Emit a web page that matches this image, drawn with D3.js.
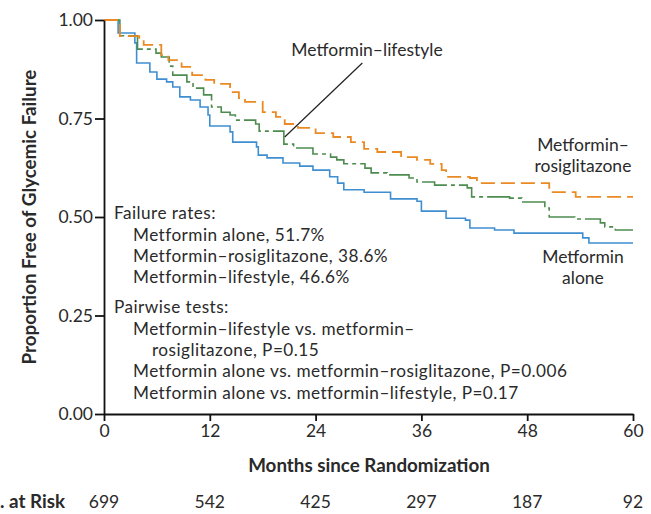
<!DOCTYPE html>
<html>
<head>
<meta charset="utf-8">
<script src="https://cdn.jsdelivr.net/npm/d3@7"></script>
<style>
html,body{margin:0;padding:0;background:#fff;}
svg{display:block;font-family:Lato,sans-serif;}
</style>
</head>
<body>
<svg id="chart" width="651" height="514"></svg>
<script>
// ---- data ----
const xTicks = [0, 12, 24, 36, 48, 60];
const yTicks = [0, 0.25, 0.5, 0.75, 1.0];
const riskCounts = [699, 542, 425, 297, 187, 92];

const aloneMonths = [0, 1.6, 3.5, 3.7, 5.2, 6.0, 7.1, 7.8, 8.6, 9.8, 10.9, 11.8, 12.0, 14.3, 14.6, 17.3, 17.5, 18.5, 20.3, 22.2, 23.7, 25.6, 26.5, 27.2, 29.5, 32.5, 35.5, 36.0, 38.8, 41.0, 41.5, 44.3, 46.5, 54.3, 55.0, 60];
const aloneSurv   = [1.0, 0.967, 0.942, 0.891, 0.868, 0.850, 0.843, 0.830, 0.805, 0.797, 0.779, 0.759, 0.731, 0.716, 0.690, 0.678, 0.657, 0.650, 0.637, 0.629, 0.619, 0.602, 0.586, 0.569, 0.563, 0.546, 0.540, 0.515, 0.497, 0.492, 0.472, 0.467, 0.459, 0.447, 0.434, 0.434];

const rosiMonths = [0, 1.8, 4.0, 4.5, 6.5, 7.3, 8.8, 10.0, 11.5, 12.5, 14.3, 15.3, 16.0, 18.0, 19.5, 20.5, 22.0, 24.0, 26.0, 28.0, 29.5, 31.0, 33.7, 35.5, 37.0, 38.3, 38.8, 41.5, 42.3, 50.5, 53.5, 60];
const rosiSurv   = [1.0, 0.959, 0.949, 0.937, 0.911, 0.898, 0.881, 0.860, 0.848, 0.838, 0.817, 0.802, 0.792, 0.766, 0.754, 0.736, 0.726, 0.713, 0.703, 0.690, 0.673, 0.665, 0.652, 0.645, 0.635, 0.619, 0.602, 0.599, 0.586, 0.563, 0.551, 0.551];

const lifeMonths = [0, 1.8, 3.8, 5.9, 6.5, 7.4, 7.8, 9.4, 10.1, 11.3, 12.2, 13.3, 14.3, 14.9, 17.2, 17.6, 20.4, 21.5, 23.7, 25.7, 26.4, 27.2, 29.6, 30.3, 32.1, 34.6, 35.5, 37.5, 41.2, 41.7, 46.0, 47.4, 50.0, 50.5, 53.4, 56.3, 56.8, 58.0, 60];
const lifeSurv   = [1.0, 0.96, 0.926, 0.916, 0.906, 0.883, 0.860, 0.843, 0.827, 0.810, 0.779, 0.766, 0.759, 0.746, 0.736, 0.718, 0.685, 0.675, 0.660, 0.652, 0.645, 0.635, 0.624, 0.612, 0.607, 0.599, 0.589, 0.581, 0.574, 0.551, 0.548, 0.538, 0.523, 0.500, 0.495, 0.485, 0.475, 0.467, 0.467];

const failureLines = ["Metformin alone, 51.7%", "Metformin\u2013rosiglitazone, 38.6%", "Metformin\u2013lifestyle, 46.6%"];
const pairwiseLines = ["Metformin\u2013lifestyle vs. metformin\u2013", "rosiglitazone, P=0.15", "Metformin alone vs. metformin\u2013rosiglitazone, P=0.006", "Metformin alone vs. metformin\u2013lifestyle, P=0.17"];

// ---- chart ----
const svg = d3.select("#chart");
const x = d3.scaleLinear().domain([0, 60]).range([104, 633]);
const y = d3.scaleLinear().domain([0, 1]).range([414, 20]);
const textColor = "#2a2a2a";
const fs = "17.2px";

const line = d3.line().x(d => x(d[0])).y(d => y(d[1])).curve(d3.curveStepAfter);

function series(m, s) { return m.map((v, i) => [v, s[i]]); }

svg.append("path").datum(series(aloneMonths, aloneSurv))
  .attr("d", line).attr("fill", "none").attr("stroke", "#3f8fd0").attr("stroke-width", 1.6);
svg.append("path").datum(series(lifeMonths, lifeSurv))
  .attr("d", line).attr("fill", "none").attr("stroke", "#4d8c4f").attr("stroke-width", 1.6)
  .attr("stroke-dasharray", "28,4,4,4");
svg.append("path").datum(series(rosiMonths, rosiSurv))
  .attr("d", line).attr("fill", "none").attr("stroke", "#ea8a24").attr("stroke-width", 1.8)
  .attr("stroke-dasharray", "14,6");

// axes
const yAxis = svg.append("g").attr("transform", `translate(${x(0)},0)`)
  .call(d3.axisLeft(y).tickValues(yTicks).tickFormat(d3.format(".2f")).tickSize(9).tickSizeOuter(0).tickPadding(2));
const xAxis = svg.append("g").attr("transform", `translate(0,${y(0)})`)
  .call(d3.axisBottom(x).tickValues(xTicks).tickSize(7).tickSizeOuter(0).tickPadding(4));
[yAxis, xAxis].forEach(g => {
  g.selectAll("path,line").attr("stroke", "#111").attr("stroke-width", 1.8);
  g.selectAll("text").attr("fill", textColor).style("font-size", "17.5px").style("font-family", "Lato,sans-serif");
});

// axis titles
svg.append("text").attr("x", 369).attr("y", 472).attr("text-anchor", "middle")
  .attr("fill", textColor).style("font-size", "18.8px").style("font-weight", "bold")
  .text("Months since Randomization");
svg.append("text").attr("transform", `translate(36,${y(0.5)}) rotate(-90)`).attr("text-anchor", "middle")
  .attr("fill", textColor).style("font-size", "18.8px").style("font-weight", "bold")
  .text("Proportion Free of Glycemic Failure");

// number at risk
svg.append("text").attr("x", 65).attr("y", 508).attr("text-anchor", "end")
  .attr("fill", textColor).style("font-size", "18.8px").style("font-weight", "bold").text("No. at Risk");
svg.selectAll(".risk").data(riskCounts).enter().append("text")
  .attr("x", (d, i) => x(xTicks[i])).attr("y", 508).attr("text-anchor", "middle")
  .attr("fill", textColor).style("font-size", "17.5px").text(d => d);

// series labels
svg.append("line").attr("x1", x(20.5)).attr("y1", y(0.703)).attr("x2", x(29.3)).attr("y2", y(0.891))
  .attr("stroke", "#222").attr("stroke-width", 1.2);
const lab = svg.append("g").attr("fill", textColor).style("font-size", "17.5px").attr("text-anchor", "middle");
lab.append("text").attr("x", 367).attr("y", 56).text("Metformin\u2013lifestyle");
lab.append("text").attr("x", 583).attr("y", 151).text("Metformin\u2013");
lab.append("text").attr("x", 583).attr("y", 172).text("rosiglitazone");
lab.append("text").attr("x", 583).attr("y", 263).text("Metformin");
lab.append("text").attr("x", 583).attr("y", 284).text("alone");

// annotation block
const block = svg.append("g").attr("fill", textColor).style("font-size", fs).style("letter-spacing", "0.45px");
block.append("text").attr("x", 114).attr("y", 219).text("Failure rates:");
failureLines.forEach((t, i) => block.append("text").attr("x", 133).attr("y", 241 + i * 20.8).text(t));
block.append("text").attr("x", 114).attr("y", 313).text("Pairwise tests:");
const pX = [133, 152, 133, 133];
pairwiseLines.forEach((t, i) => block.append("text").attr("x", pX[i]).attr("y", 335 + i * 21.2).text(t));
</script>
</body>
</html>
